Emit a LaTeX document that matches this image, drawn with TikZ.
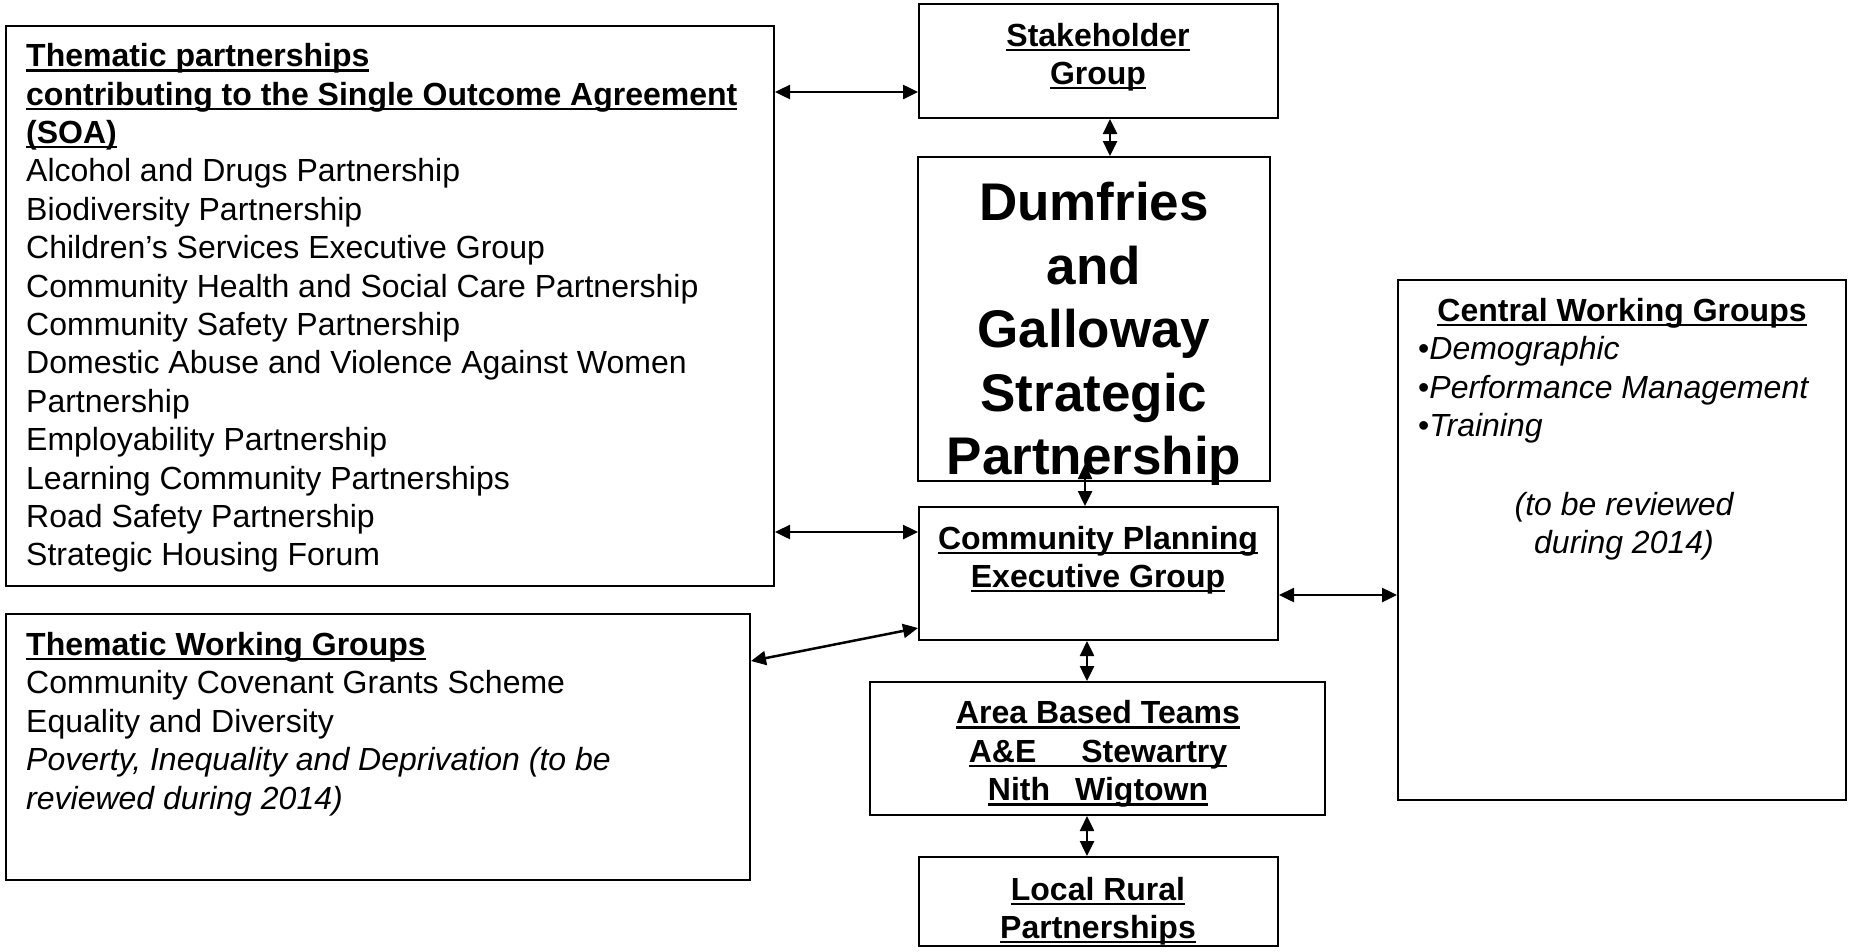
\documentclass[tikz,border=0pt]{standalone}
\usepackage{fontspec}
\setmainfont{Liberation Sans}
\usetikzlibrary{arrows.meta}
\newsavebox\ulbox
\newcommand\myul[1]{\sbox\ulbox{#1}\rlap{\rule[-5pt]{\wd\ulbox}{2.5pt}}\usebox\ulbox}
\tikzset{
 box/.style={draw, line width=2pt, rectangle, inner sep=0pt},
 txt/.style={inner sep=0pt, font=\fontsize{32}{38.4}\selectfont},
 txti/.style={inner sep=0pt, font=\fontsize{32}{38.4}\selectfont\itshape},
 big/.style={inner sep=0pt, font=\fontsize{53}{63.6}\selectfont\bfseries},
 arr/.style={{Triangle[length=15pt,width=14pt]}-{Triangle[length=15pt,width=14pt]}, line width=2.5pt},
}
\begin{document}
\begin{tikzpicture}[x=1pt,y=-1pt]
\fill[white] (0,0) rectangle (1854,951);
\useasboundingbox (0,0) rectangle (1854,951);
% boxes
\node[box, minimum width=768pt, minimum height=560pt] (tp) at (390,306) {};
\node[box, minimum width=359pt, minimum height=114pt] (sg) at (1098.5,61) {};
\node[box, minimum width=352pt, minimum height=324pt] (dg) at (1094,319) {};
\node[box, minimum width=359pt, minimum height=133pt] (cp) at (1098.5,573.5) {};
\node[box, minimum width=448pt, minimum height=520pt] (cw) at (1622,540) {};
\node[box, minimum width=744pt, minimum height=266pt] (tw) at (378,747) {};
\node[box, minimum width=455pt, minimum height=133pt] (ab) at (1097.5,748.5) {};
\node[box, minimum width=359pt, minimum height=89pt] (lr) at (1098.5,901.5) {};
% texts
\node[txt, anchor=west, align=left] (tpT) at (26,308) {\myul{\bfseries Thematic partnerships}\\
\myul{\bfseries contributing to the Single Outcome Agreement}\\
\myul{\bfseries (SOA)}\\
Alcohol and Drugs Partnership\\
Biodiversity Partnership\\
Children’s Services Executive Group\\
Community Health and Social Care Partnership\\
Community Safety Partnership\\
Domestic Abuse and Violence Against Women\\
Partnership\\
Employability Partnership\\
Learning Community Partnerships\\
Road Safety Partnership\\
Strategic Housing Forum};
\node[txt, align=center] (sgT) at (1098,57) {\myul{\bfseries Stakeholder}\\ \myul{\bfseries Group}};
\node[big, align=center] (dgT) at (1094,334) {Dumfries\\ and\\ Galloway\\ Strategic\\ Partnership};
\node[txt, align=center] (cpT) at (1098,560) {\myul{\bfseries Community Planning}\\ \myul{\bfseries Executive Group}};
\node[txt] (cwH) at (1622,313) {\myul{\bfseries Central Working Groups}};
\node[txt, anchor=west, align=left] (cwL) at (1418,390) {•\textit{Demographic}\\ •\textit{Performance Management}\\ •\textit{Training}};
\node[txti, align=center] (cwR) at (1624,526) {(to be reviewed\\ during 2014)};
\node[txt, anchor=west, align=left] (twT) at (26,724) {\myul{\bfseries Thematic Working Groups}\\
Community Covenant Grants Scheme\\
Equality and Diversity\\
\textit{Poverty, Inequality and Deprivation (to be}\\
\textit{reviewed during 2014)}};
\node[txt, align=center] (abT) at (1098,754) {\myul{\bfseries Area Based Teams}\\ \myul{\bfseries A\&E\hspace{45pt}Stewartry}\\ \myul{\bfseries Nith\hspace{25pt}Wigtown}};
\node[txt, align=center] (lrT) at (1098,911) {\myul{\bfseries Local Rural}\\ \myul{\bfseries Partnerships}};
% connectors
\coordinate (yA) at (0,92);
\coordinate (yB) at (0,532);
\coordinate (yD) at (0,595);
\coordinate (xA) at (1110,0);
\coordinate (xB) at (1085,0);
\coordinate (xC) at (1087,0);
\coordinate (dgArr) at (1085,464);
\coordinate (twArr) at (0,661);
\coordinate (cpArr) at (0,628);
\draw[arr] (tp.east |- yA) -- (sg.west |- yA);
\draw[arr] (tp.east |- yB) -- (cp.west |- yB);
\draw[arr] (sg.south -| xA) -- (dg.north -| xA);
\draw[arr] (dgArr) -- (cp.north -| xB);
\draw[arr] (tw.east |- twArr) -- (cp.west |- cpArr);
\draw[arr] (cp.east |- yD) -- (cw.west |- yD);
\draw[arr] (cp.south -| xC) -- (ab.north -| xC);
\draw[arr] (ab.south -| xC) -- (lr.north -| xC);
\end{tikzpicture}
\end{document}
